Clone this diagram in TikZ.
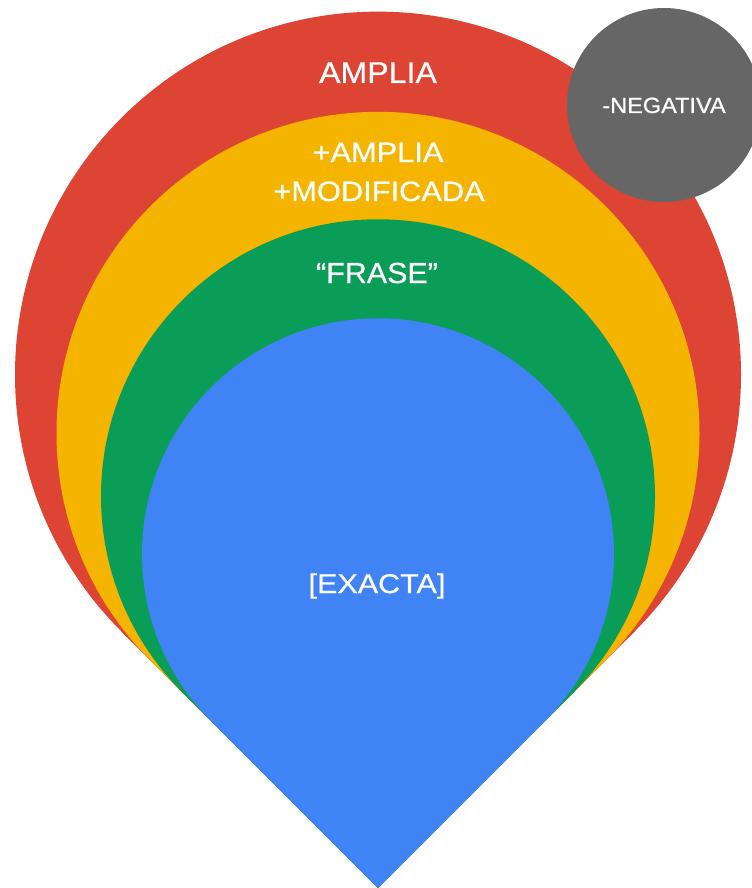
\documentclass[tikz,border=0pt]{standalone}
\usepackage{fontspec}
\setmainfont{Liberation Sans}
\newfontfamily\medfont{Liberation Sans}[FakeBold=0.6]
\definecolor{gred}{HTML}{DD4433}
\definecolor{gyellow}{HTML}{F5B400}
\definecolor{ggreen}{HTML}{0A9D57}
\definecolor{gblue}{HTML}{4083F5}
\definecolor{ggray}{HTML}{666666}
\newcommand{\pinshape}[2]{%
  \pgfmathsetmacro{\pcy}{888-#1*1.41421}%
  \pgfmathsetmacro{\pdd}{#1*0.70711}%
  \fill[#2] (378,\pcy) circle[radius=#1];
  \fill[#2] (378,888) -- (378-\pdd,\pcy+\pdd) -- (378+\pdd,\pcy+\pdd) -- cycle;
}
\tikzset{
  lbl/.style={text=white, anchor=base, inner sep=0pt, outer sep=0pt},
}
\begin{document}
\begin{tikzpicture}[x=0.75pt,y=-0.75pt]
\useasboundingbox (0,0) rectangle (752,888);
\begin{scope}
\clip (0,0) rectangle (752,888);
\pinshape{363}{gred}
\pinshape{321.5}{gyellow}
\pinshape{277}{ggreen}
\pinshape{236}{gblue}
\fill[ggray] (664,105) circle[radius=97];
\end{scope}
\node[lbl, font=\medfont\fontsize{22.5}{26}\selectfont] (amplia) at (378,83) {\scalebox{1.07}[1]{AMPLIA}};
\node[lbl, font=\medfont\fontsize{21}{25}\selectfont] (amplia2) at (378,162) {\scalebox{1.10}[1]{+AMPLIA}};
\node[lbl, font=\medfont\fontsize{21}{25}\selectfont] (modif) at (379,201) {\scalebox{1.10}[1]{+MODIFICADA}};
\node[lbl, font=\medfont\fontsize{21.75}{25}\selectfont] (frase) at (377,283) {\scalebox{1.05}[1]{“FRASE”}};
\node[lbl, font=\medfont\fontsize{20.25}{24}\selectfont] (exacta) at (377,593) {\scalebox{1.13}[1]{[EXACTA]}};
\node[lbl, font=\medfont\fontsize{16.5}{20}\selectfont] (neg) at (664,113) {\scalebox{1.07}[1]{-NEGATIVA}};
\end{tikzpicture}
\end{document}
